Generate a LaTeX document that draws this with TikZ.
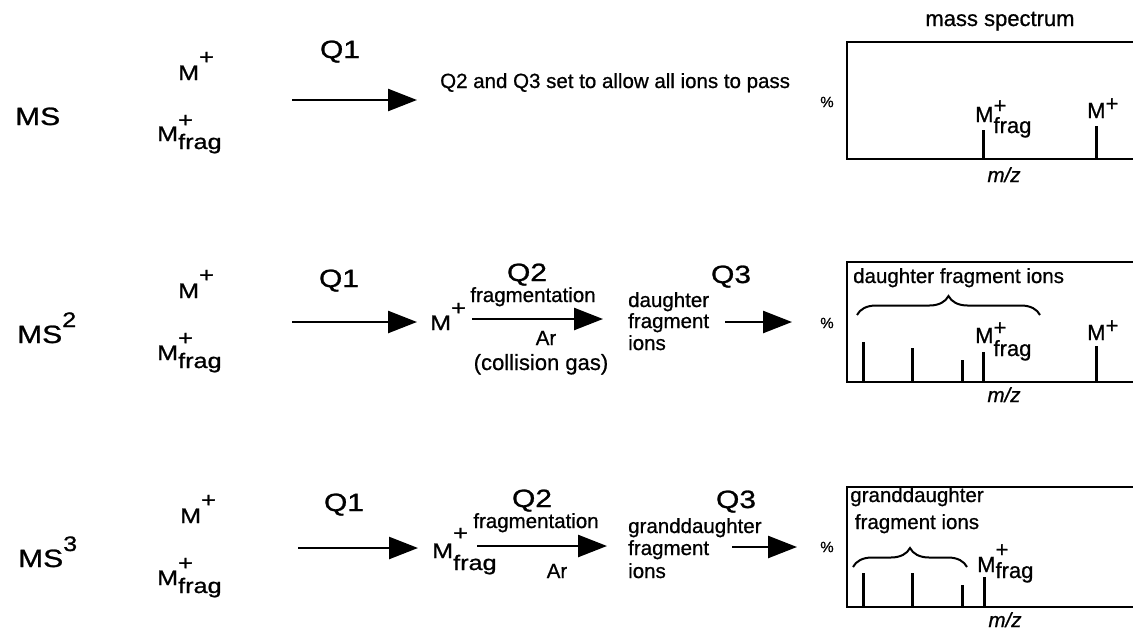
\documentclass[tikz,border=0pt]{standalone}
\usepackage{fontspec}
\setmainfont[FakeBold=0.8]{Liberation Sans}
\newfontfamily\widefam[FakeStretch=1.2,FakeBold=1]{Liberation Sans}
\usetikzlibrary{arrows.meta,decorations.pathreplacing}
\newcommand{\bigQ}{\widefam\fontsize{25}{30}\selectfont}
\newcommand{\midM}{\widefam\fontsize{21}{25}\selectfont}
\newcommand{\sm}{\fontsize{20.5}{24}\selectfont}
\newcommand{\spec}{\fontsize{22}{26}\selectfont}
\newcommand{\Mp}[1]{M\raisebox{#1}{+}}
\newcommand{\Mfr}[2]{M\rlap{\raisebox{#1}{+}}\raisebox{-#2}{frag}}
\begin{document}
\begin{tikzpicture}[x=1pt,y=-1pt,
  lbl/.style={inner sep=0pt, anchor=base west},
  lblc/.style={inner sep=0pt, anchor=base},
  arr/.style={line width=2.5pt, -{Triangle[length=29pt,width=22pt]}},
  frame/.style={line width=2.5pt},
  peak/.style={line width=3pt},
  brc/.style={line width=2pt, decorate, decoration={brace,amplitude=19pt}}]
\useasboundingbox[fill=white] (0,0) rectangle (1133,632);

% ---------------- Row 1: MS ----------------
\node[lbl] (ms1) at (15,125) {\bigQ MS};
\node[lbl] (mp1) at (178,80) {\midM \Mp{16pt}};
\node[lbl] (mf1) at (157,141) {\midM \Mfr{14pt}{8pt}};
\node[lblc] (q1a) at (340,58) {\bigQ Q1};
\coordinate (a1s) at (292,100); \coordinate (a1e) at (417,100);
\draw[arr] (a1s) -- (a1e);
\node[lbl] (pass) at (440,88) {\sm Q2 and Q3 set to allow all ions to pass};
\node[lblc] (msp) at (1000,26) {\spec mass spectrum};
\node[inner sep=0pt] (pc1) at (827,102) {\fontsize{15}{18}\selectfont\%};
\draw[frame] (1134,42) -- (847,42) -- (847,159) -- (1134,159);
\draw[peak] (983,159) -- (983,130);
\draw[peak] (1096,159) -- (1096,126);
\node[lbl] (s1f) at (975,122) {\spec \Mfr{9pt}{11pt}};
\node[lbl] (s1m) at (1087,118) {\spec \Mp{7pt}};
\node[lblc] (mz1) at (1004,182) {\sm\itshape m/z};

% ---------------- Row 2: MS2 ----------------
\node[lbl] (ms2) at (17,343) {\bigQ MS\raisebox{16pt}{\midM 2}};
\node[lbl] (mp2) at (178,298) {\midM \Mp{16pt}};
\node[lbl] (mf2) at (157,360) {\midM \Mfr{15pt}{8pt}};
\node[lblc] (q1b) at (339,287) {\bigQ Q1};
\coordinate (a2s) at (292,322); \coordinate (a2e) at (417,322);
\draw[arr] (a2s) -- (a2e);
\node[lbl] (mm2) at (430,330) {\midM \Mp{15pt}};
\node[lblc] (q2b) at (527,281) {\bigQ Q2};
\node[lblc] (fr2) at (533,302) {\sm fragmentation};
\coordinate (b2s) at (472,319); \coordinate (b2e) at (603,319);
\draw[arr] (b2s) -- (b2e);
\node[lblc] (ar2) at (546,345) {\sm Ar};
\node[lblc] (cg2) at (541,370) {\fontsize{22}{26}\selectfont (collision gas)};
\node[lbl] (d2a) at (628,307) {\sm daughter};
\node[lbl] (d2b) at (628,328) {\sm fragment};
\node[lbl] (d2c) at (628,350) {\sm ions};
\node[lblc] (q3b) at (731,283) {\bigQ Q3};
\coordinate (c2s) at (725,322); \coordinate (c2e) at (792,322);
\draw[arr] (c2s) -- (c2e);
\node[inner sep=0pt] (pc2) at (827,323) {\fontsize{15}{18}\selectfont\%};
\draw[frame] (1134,262) -- (847,262) -- (847,382) -- (1134,382);
\foreach \px/\py in {863/342,912/348,962/360,983/352,1096/346}
  \draw[peak] (\px,382) -- (\px,\py);
\node[lbl] (dfi) at (853,283) {\sm daughter fragment ions};
\draw[brc] (857,315) -- (1040,315);
\node[lbl] (s2f) at (975,343) {\spec \Mfr{8pt}{13pt}};
\node[lbl] (s2m) at (1087,340) {\spec \Mp{7pt}};
\node[lblc] (mz2) at (1004,402) {\sm\itshape m/z};

% ---------------- Row 3: MS3 ----------------
\node[lbl] (ms3) at (18,567) {\bigQ MS\raisebox{16pt}{\midM 3}};
\node[lbl] (mp3) at (180,523) {\midM \Mp{16pt}};
\node[lbl] (mf3) at (157,585) {\midM \Mfr{15pt}{8pt}};
\node[lblc] (q1c) at (344,511) {\bigQ Q1};
\coordinate (a3s) at (298,548); \coordinate (a3e) at (418,548);
\draw[arr] (a3s) -- (a3e);
\node[lbl] (mm3) at (432,558) {\midM \Mfr{18pt}{12pt}};
\node[lblc] (q2c) at (532,507) {\bigQ Q2};
\node[lblc] (fr3) at (536,528) {\sm fragmentation};
\coordinate (b3s) at (477,546); \coordinate (b3e) at (607,546);
\draw[arr] (b3s) -- (b3e);
\node[lblc] (ar3) at (557,578) {\sm Ar};
\node[lbl] (g3a) at (628,533) {\sm granddaughter};
\node[lbl] (g3b) at (628,555) {\sm fragment};
\node[lbl] (g3c) at (628,578) {\sm ions};
\node[lblc] (q3c) at (736,508) {\bigQ Q3};
\coordinate (c3s) at (732,547); \coordinate (c3e) at (797,547);
\draw[arr] (c3s) -- (c3e);
\node[inner sep=0pt] (pc3) at (827,547) {\fontsize{15}{18}\selectfont\%};
\draw[frame] (1134,487) -- (847,487) -- (847,607) -- (1134,607);
\foreach \px/\py in {863/573,912/573,962/585,984/577}
  \draw[peak] (\px,607) -- (\px,\py);
\node[lblc] (gfa) at (917,502) {\sm granddaughter};
\node[lblc] (gfb) at (917,529) {\sm fragment ions};
\draw[brc] (853,567) -- (967,567);
\node[lbl] (s3f) at (977,572) {\spec \Mfr{15pt}{6pt}};
\node[lblc] (mz3) at (1005,627) {\sm\itshape m/z};
\end{tikzpicture}
\end{document}
